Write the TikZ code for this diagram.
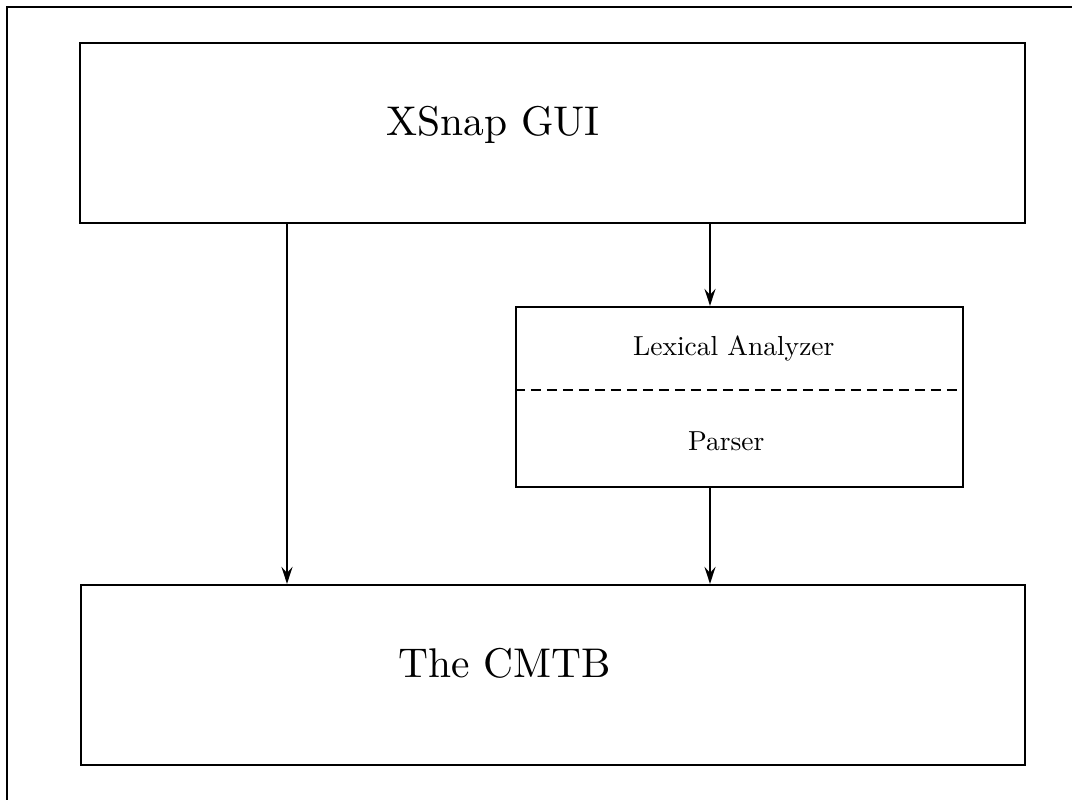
\documentclass[tikz,border=0pt]{standalone}
\usepackage{fontspec}
\newfontfamily\lmten{lmroman10-regular.otf}
\usetikzlibrary{arrows.meta}
\begin{document}
\begin{tikzpicture}[x=1pt,y=-1pt,
  line width=2.2pt,
  box/.style={draw, rectangle, inner sep=0pt, minimum height=180pt},
  arr/.style={-{Stealth[length=17pt,width=11pt,inset=6pt]}},
  bigtext/.style={anchor=base west, inner sep=0pt, font=\lmten\fontsize{41.5}{48}\selectfont},
  smalltext/.style={anchor=base west, inner sep=0pt, font=\lmten\fontsize{27.5}{32}\selectfont}]
\useasboundingbox (0,0) rectangle (1081,800);
% outer frame (cut off at right and bottom)
\draw (7,800) -- (7,7) -- (1072,7);
% boxes
\node[box, minimum width=945pt] (gui) at (552.5,133) {};
\node[box, minimum width=447pt] (lex) at (739.5,397) {};
\node[box, minimum width=944pt] (cmtb) at (553,675) {};
% texts
\node[bigtext] (guitext) at (385,135) {XSnap GUI};
\node[bigtext] (cmtbtext) at (397,677) {The CMTB};
\node[smalltext] (lextext) at (632,355) {Lexical Analyzer};
\node[smalltext] (partext) at (687,450) {Parser};
% dashed separator
\draw[dash pattern=on 10pt off 6pt] (lex.west |- 0,390) -- (lex.east |- 0,390);
% connectors
\draw[arr] (gui.south -| 287,0) -- (cmtb.north -| 287,0);
\draw[arr] (gui.south -| 710,0) -- (lex.north -| 710,0);
\draw[arr] (lex.south -| 710,0) -- (cmtb.north -| 710,0);
\end{tikzpicture}
\end{document}
